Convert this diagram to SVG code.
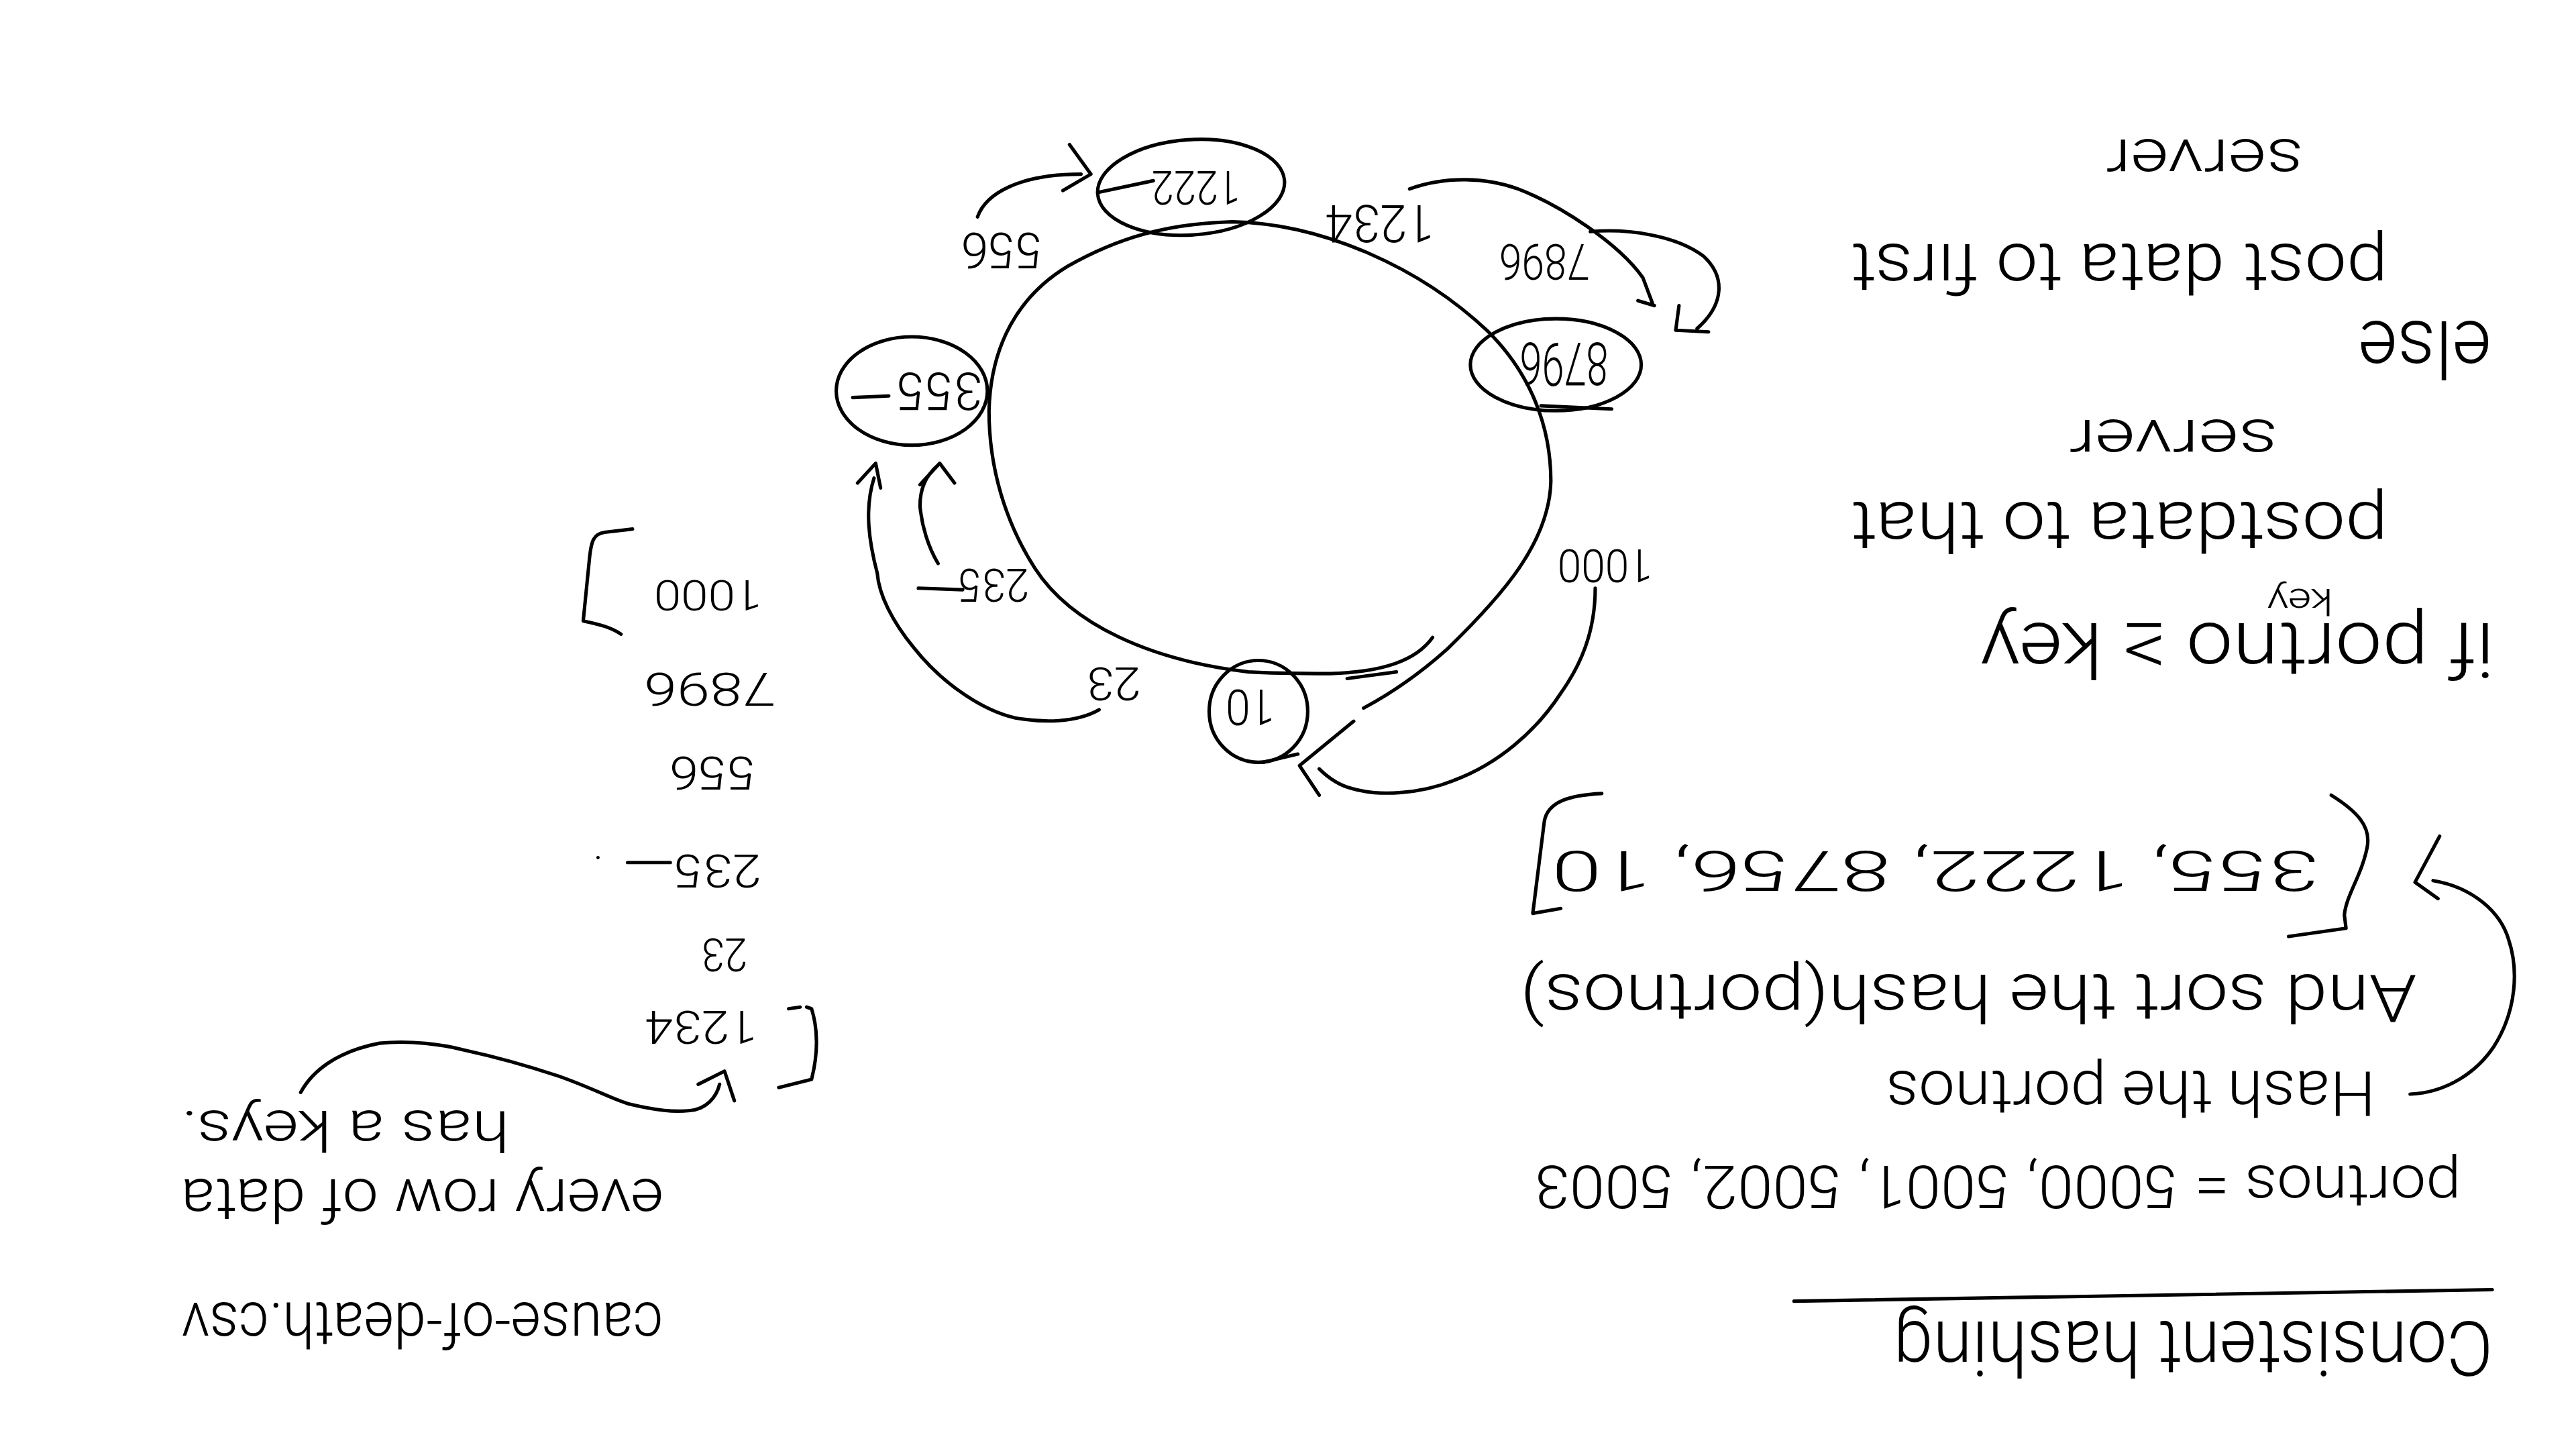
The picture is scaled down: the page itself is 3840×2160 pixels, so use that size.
<svg xmlns="http://www.w3.org/2000/svg" width="3840" height="2160" viewBox="0 0 3840 2160">
<style>
.ink{fill:none;stroke:#000;stroke-width:2.1;stroke-linecap:round;stroke-linejoin:round}
.hw{font-family:Roboto,"Open Sans","Liberation Sans",sans-serif;font-weight:300;fill:#000;text-anchor:middle;dominant-baseline:central}
</style>
<rect width="3840" height="2160" fill="#fff"/>
<g transform="scale(2.449)">
<g id="ring">
<path class="ink" d="M872,388 C862,402 842,409 810,410 C790,410 775,410 760,409 C700,402 652,380 630,346 C612,318 602,285 602,250 C603,210 620,180 650,162 C680,145 710,136 750,135 C805,136 865,163 906,202 C932,228 944,260 944,293 C943,330 915,362 881,395 C862,412 845,423 830,431"/>
<path class="ink" d="M820,413 L850,409"/>
</g>
<g id="node-1222">
<ellipse class="ink" cx="725" cy="114" rx="57" ry="29" transform="rotate(-4 725 114)"/>
<text class="hw" x="728" y="114" font-size="29" textLength="54" lengthAdjust="spacingAndGlyphs" transform="rotate(180 728 114)">1222</text>
<path class="ink" d="M669,117 L702,110"/>
</g>
<g id="node-8796">
<ellipse class="ink" cx="947" cy="222" rx="52" ry="28"/>
<text class="hw" x="952" y="221" font-size="36" textLength="54" lengthAdjust="spacingAndGlyphs" transform="rotate(180 952 221)">8796</text>
<path class="ink" d="M938,247 L981,249"/>
</g>
<g id="node-355">
<ellipse class="ink" cx="555" cy="238" rx="46" ry="33"/>
<text class="hw" x="572" y="238" font-size="32" textLength="52" lengthAdjust="spacingAndGlyphs" transform="rotate(180 572 238)">355</text>
<path class="ink" d="M519,242 L541,241"/>
</g>
<g id="node-10">
<ellipse class="ink" cx="766" cy="433" rx="30" ry="31"/>
<text class="hw" x="761" y="430" font-size="30" textLength="30" lengthAdjust="spacingAndGlyphs" transform="rotate(180 761 430)">10</text>
<path class="ink" d="M769,464 L790,459"/>
</g>
<g id="connectors">
<path class="ink" d="M595,132 C600,118 620,106 658,106 M651,88 L664,106 L647,116"/>
<path class="ink" d="M858,115 C880,107 905,108 924,115 C950,125 985,148 1000,169 L1006,185 M997,183 L1007,186"/>
<path class="ink" d="M968,141 C990,139 1020,143 1037,156 C1050,168 1050,185 1033,200 M1022,186 L1020,201 L1040,202"/>
<path class="ink" d="M971,358 C971,385 962,405 950,422 C935,445 912,465 885,475 C865,483 840,485 823,480 C815,478 808,473 803,468 M824,439 L791,466 L803,484"/>
<path class="ink" d="M669,432 C655,440 635,440 618,437 C600,433 575,418 556,394 C543,378 535,362 534,349 C529,330 526,310 532,291 M522,294 L533,282 L536,297"/>
<path class="ink" d="M571,343 C565,333 561,320 560,308 C560,298 563,290 571,283 M560,295 L572,282 L581,294"/>
<path class="ink" d="M183,665 C190,652 205,640 231,635 C250,633 270,636 282,639 C305,644 325,650 340,655 C360,662 375,670 383,672 C400,676 410,677 420,676 C430,675 436,668 438,660 M425,660 L441,652 L447,670"/>
<path class="ink" d="M1467,666 C1490,665 1508,652 1518,637 C1532,615 1533,590 1527,572 C1522,555 1505,540 1481,536 M1485,509 L1470,537 L1484,547"/>
</g>
<g id="ring-labels">
<text class="hw" x="610" y="152" font-size="30" textLength="50" lengthAdjust="spacingAndGlyphs" transform="rotate(180 610 152)">556</text>
<text class="hw" x="840" y="136" font-size="32" textLength="66" lengthAdjust="spacingAndGlyphs" transform="rotate(180 840 136)">1234</text>
<text class="hw" x="940" y="159" font-size="30" textLength="55" lengthAdjust="spacingAndGlyphs" transform="rotate(180 940 159)">7896</text>
<text class="hw" x="977" y="344" font-size="28" textLength="58" lengthAdjust="spacingAndGlyphs" transform="rotate(180 977 344)">1000</text>
<text class="hw" x="605" y="356" font-size="28" textLength="43" lengthAdjust="spacingAndGlyphs" transform="rotate(180 605 356)">235</text>
<path class="ink" d="M559,358 L586,359"/>
<text class="hw" x="678" y="416" font-size="28" textLength="33" lengthAdjust="spacingAndGlyphs" transform="rotate(180 678 416)">23</text>
</g>
<g id="key-list">
<path class="ink" d="M385,322 L368,324 C361,325 360,330 359,338 L355,378 C365,380 372,382 378,386"/>
<path class="ink" d="M480,614 L487,613 M491,613 L494,614 C499,630 497,645 494,657 L474,662"/>
<text class="hw" x="431" y="362" font-size="26" textLength="66" lengthAdjust="spacingAndGlyphs" transform="rotate(180 431 362)">1000</text>
<text class="hw" x="432" y="419" font-size="28" textLength="80" lengthAdjust="spacingAndGlyphs" transform="rotate(180 432 419)">7896</text>
<text class="hw" x="434" y="470" font-size="28" textLength="53" lengthAdjust="spacingAndGlyphs" transform="rotate(180 434 470)">556</text>
<text class="hw" x="437" y="530" font-size="28" textLength="53" lengthAdjust="spacingAndGlyphs" transform="rotate(180 437 530)">235</text>
<path class="ink" d="M382,525 L408,525"/>
<circle cx="364" cy="522" r="1" fill="#000"/>
<text class="hw" x="441" y="581" font-size="28" textLength="28" lengthAdjust="spacingAndGlyphs" transform="rotate(180 441 581)">23</text>
<text class="hw" x="427" y="625" font-size="28" textLength="68" lengthAdjust="spacingAndGlyphs" transform="rotate(180 427 625)">1234</text>
</g>
<g id="notes-left">
<text class="hw" x="210" y="688" font-size="34" textLength="200" lengthAdjust="spacingAndGlyphs" transform="rotate(180 210 688)">has a keys.</text>
<text class="hw" x="257" y="730" font-size="36" textLength="294" lengthAdjust="spacingAndGlyphs" transform="rotate(180 257 730)">every row of data</text>
<text class="hw" x="257" y="806" font-size="38" textLength="293" lengthAdjust="spacingAndGlyphs" transform="rotate(180 257 806)">cause-of-death.csv</text>
</g>
<g id="notes-right">
<text class="hw" x="1342" y="97" font-size="36" textLength="120" lengthAdjust="spacingAndGlyphs" transform="rotate(180 1342 97)">server</text>
<text class="hw" x="1290" y="163" font-size="42" textLength="327" lengthAdjust="spacingAndGlyphs" transform="rotate(180 1290 163)">post data to first</text>
<text class="hw" x="1476" y="212" font-size="48" textLength="81" lengthAdjust="spacingAndGlyphs" transform="rotate(180 1476 212)">else</text>
<text class="hw" x="1323" y="268" font-size="36" textLength="127" lengthAdjust="spacingAndGlyphs" transform="rotate(180 1323 268)">server</text>
<text class="hw" x="1290" y="320" font-size="42" textLength="327" lengthAdjust="spacingAndGlyphs" transform="rotate(180 1290 320)">postdata to that</text>
<text class="hw" x="1362" y="395" font-size="46" textLength="313" lengthAdjust="spacingAndGlyphs" transform="rotate(180 1362 395)">if portno ≥ key</text>
<text class="hw" x="1400" y="366" font-size="22" textLength="40" lengthAdjust="spacingAndGlyphs" transform="rotate(180 1400 366)">key</text>
</g>
<g id="sorted-hashes">
<path class="ink" d="M975,483 C955,484 942,488 940,500 L933,556 L950,553"/>
<path class="ink" d="M1419,484 C1435,494 1443,503 1441,515 C1438,532 1428,545 1427,557 L1428,565 L1393,570"/>
<text class="hw" x="1178" y="530" font-size="34" textLength="467" lengthAdjust="spacingAndGlyphs" transform="rotate(180 1178 530)">355, 1222, 8756, 10</text>
<text class="hw" x="1198" y="607" font-size="40" textLength="546" lengthAdjust="spacingAndGlyphs" transform="rotate(180 1198 607)">And sort the hash(portnos)</text>
<text class="hw" x="1297" y="665" font-size="38" textLength="298" lengthAdjust="spacingAndGlyphs" transform="rotate(180 1297 665)">Hash the portnos</text>
<text class="hw" x="1216" y="722" font-size="36" textLength="564" lengthAdjust="spacingAndGlyphs" transform="rotate(180 1216 722)">portnos = 5000, 5001, 5002, 5003</text>
<text class="hw" x="1335" y="820" font-size="46" textLength="365" lengthAdjust="spacingAndGlyphs" transform="rotate(180 1335 820)">Consistent hashing</text>
<path class="ink" d="M1092,792 L1517,785"/>
</g>
</g>
</svg>
